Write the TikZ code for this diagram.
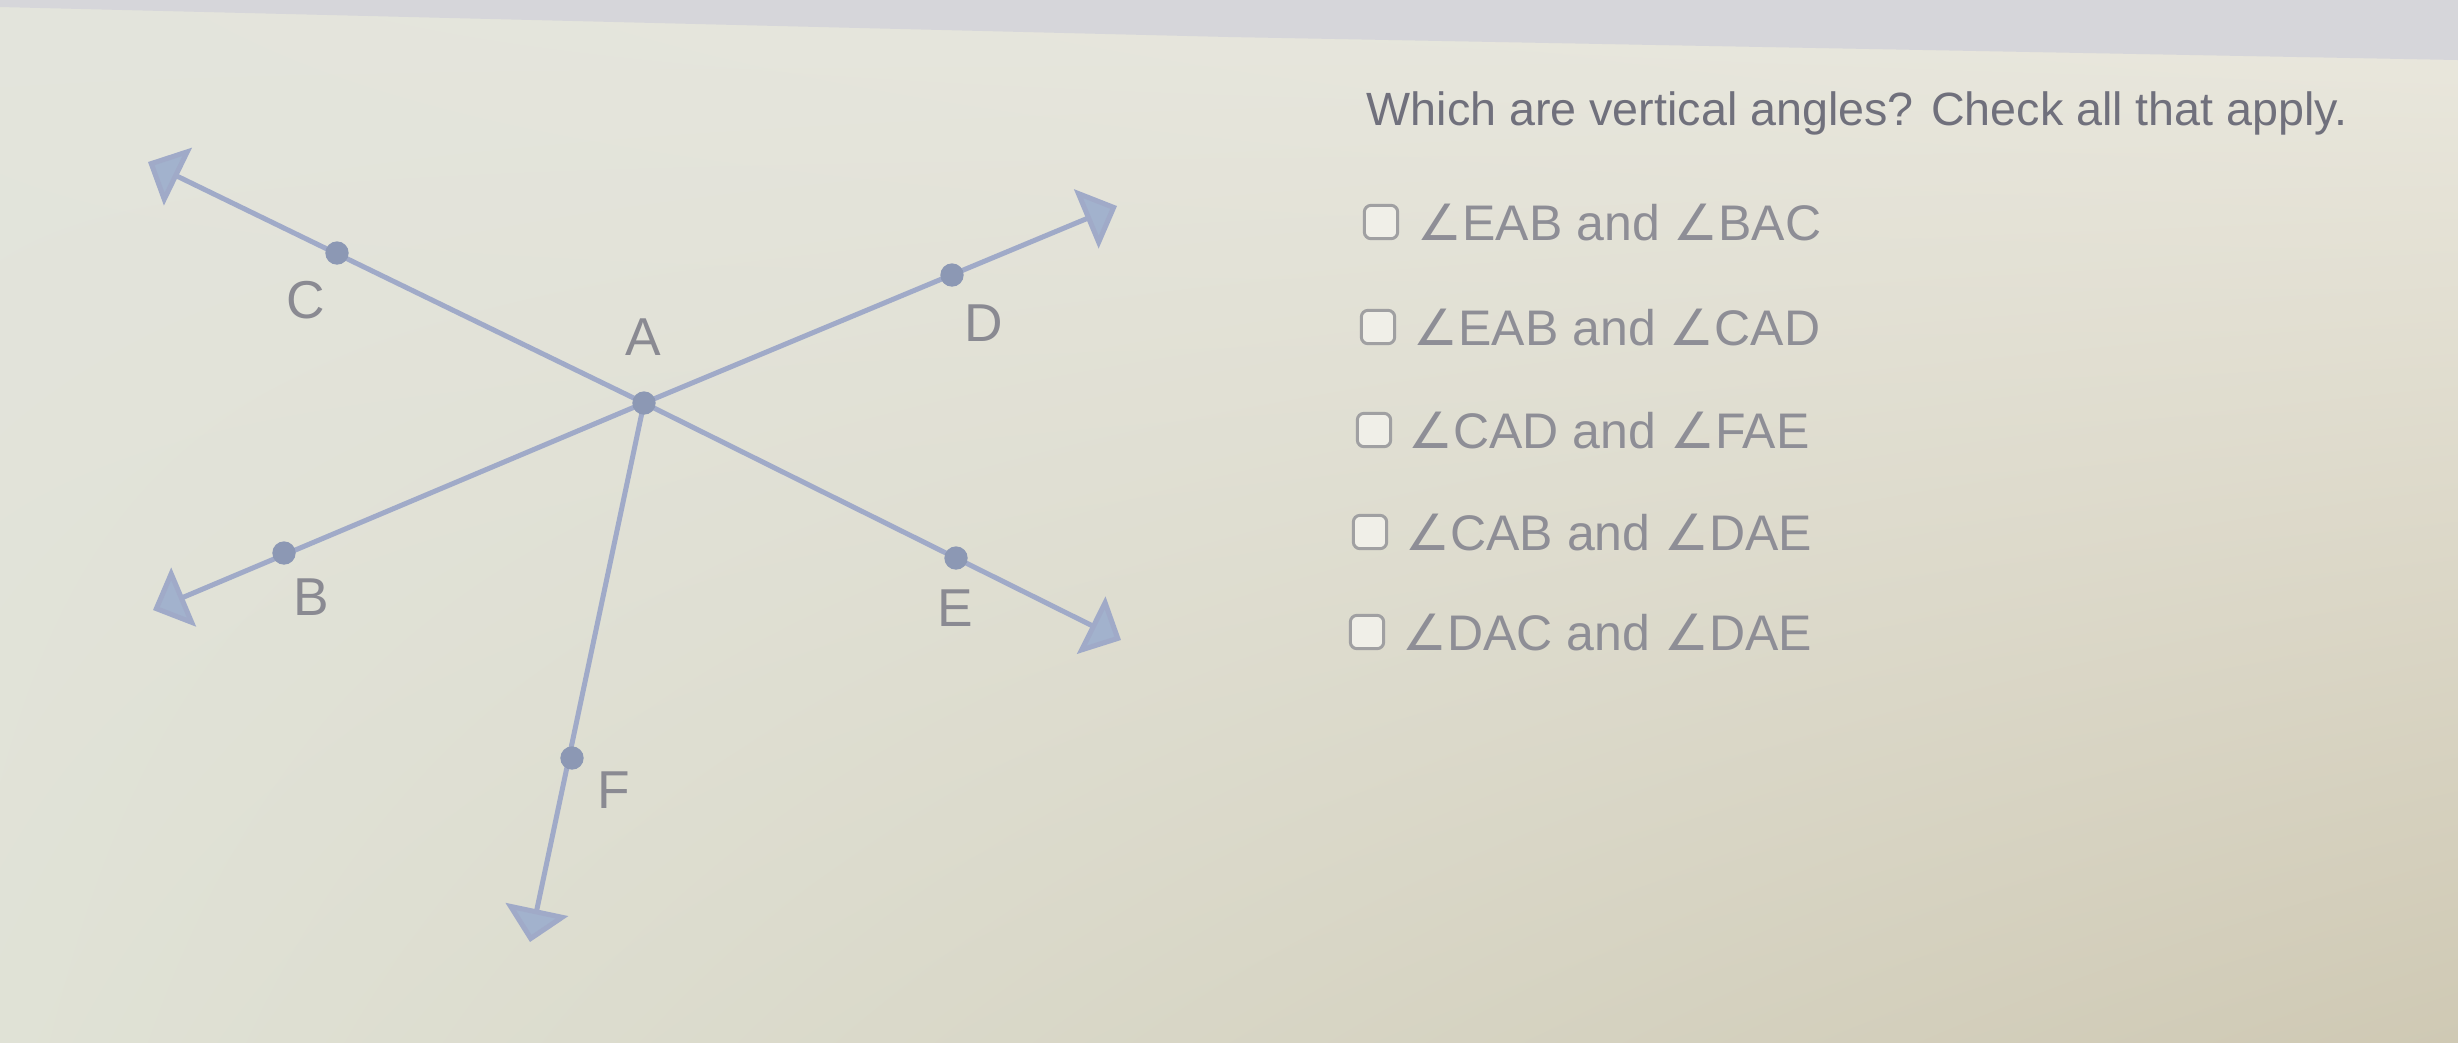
\documentclass[tikz,border=0pt]{standalone}
\usepackage{fontspec}
\setmainfont{Liberation Sans}
\newfontfamily\symfont{DejaVu Sans}
\usetikzlibrary{arrows.meta,shadings}

\definecolor{lineblue}{RGB}{160,170,200}
\definecolor{tipblue}{RGB}{162,178,205}
\definecolor{dotblue}{RGB}{140,152,180}
\definecolor{labelgrey}{RGB}{138,138,146}
\definecolor{optgrey}{RGB}{142,142,150}
\definecolor{askgrey}{RGB}{112,112,124}
\definecolor{boxgrey}{RGB}{160,160,162}
\definecolor{bandgrey}{RGB}{214,214,218}
\definecolor{paperUL}{RGB}{227,228,220}
\definecolor{paperUR}{RGB}{234,232,222}
\definecolor{paperLL}{RGB}{224,226,214}
\definecolor{paperLR}{RGB}{207,201,180}

\newcommand{\ang}{{\symfont\char"2220}}

\tikzset{
  ray/.style={draw=lineblue, line width=1.5pt, -{Triangle[length=10pt,width=19pt,fill=tipblue]}},
  dot/.style={circle, fill=dotblue, inner sep=0pt, minimum size=7pt},
  ptlabel/.style={text=labelgrey, font=\fontsize{16}{19}\selectfont},
  option/.style={text=optgrey, font=\fontsize{15}{18}\selectfont, anchor=base west, inner sep=0pt},
  checkbox/.style={draw=boxgrey, line width=0.9pt, rounded corners=2pt, minimum size=10pt, inner sep=0pt, fill=paperUR!70!white}
}

\begin{document}
\begin{tikzpicture}[x=0.3pt,y=-0.3pt]
\useasboundingbox (0,0) rectangle (2458,1042);

% background
\shade[upper left=paperUL, upper right=paperUR, lower left=paperLL, lower right=paperLR]
  (0,0) rectangle (2458,1042);
\fill[bandgrey] (0,0) -- (2458,0) -- (2458,60) -- (1229,37) -- (0,7) -- cycle;

% points and ray ends
\coordinate (A) at (644,403);
\coordinate (C) at (337,253);
\coordinate (D) at (952,275);
\coordinate (B) at (284,553);
\coordinate (E) at (956,558);
\coordinate (F) at (572,758);
\coordinate (tipC) at (148,162);
\coordinate (tipD) at (1117,206);
\coordinate (tipB) at (153,610);
\coordinate (tipE) at (1121,640);
\coordinate (tipF) at (530,942);

% rays
\draw[ray] (A) -- (tipC);
\draw[ray] (A) -- (tipD);
\draw[ray] (A) -- (tipB);
\draw[ray] (A) -- (tipE);
\draw[ray] (A) -- (tipF);

% dots
\node[dot] (dotA) at (A) {};
\node[dot] (dotC) at (C) {};
\node[dot] (dotD) at (D) {};
\node[dot] (dotB) at (B) {};
\node[dot] (dotE) at (E) {};
\node[dot] (dotF) at (F) {};

% labels
\node[ptlabel] (labC) at (306,300) {C};
\node[ptlabel] (labA) at (643,337) {A};
\node[ptlabel] (labD) at (984,323) {D};
\node[ptlabel] (labB) at (311,597) {B};
\node[ptlabel] (labE) at (955,608) {E};
\node[ptlabel] (labF) at (614,790) {F};

% question
\node[text=askgrey, font=\fontsize{14}{17}\selectfont, anchor=base west, inner sep=0pt] (ask) at (1366,125)
  {Which are vertical angles? Check all that apply.};

% options
\node[checkbox] (box1) at (1381,222) {};
\node[checkbox] (box2) at (1378,327) {};
\node[checkbox] (box3) at (1374,430) {};
\node[checkbox] (box4) at (1370,532) {};
\node[checkbox] (box5) at (1367,632) {};
\node[option] (opt1) at (1417,240) {\ang EAB and \ang BAC};
\node[option] (opt2) at (1413,345) {\ang EAB and \ang CAD};
\node[option] (opt3) at (1408,448) {\ang CAD and \ang FAE};
\node[option] (opt4) at (1405,550) {\ang CAB and \ang DAE};
\node[option] (opt5) at (1402,650) {\ang DAC and \ang DAE};

\end{tikzpicture}
\end{document}
